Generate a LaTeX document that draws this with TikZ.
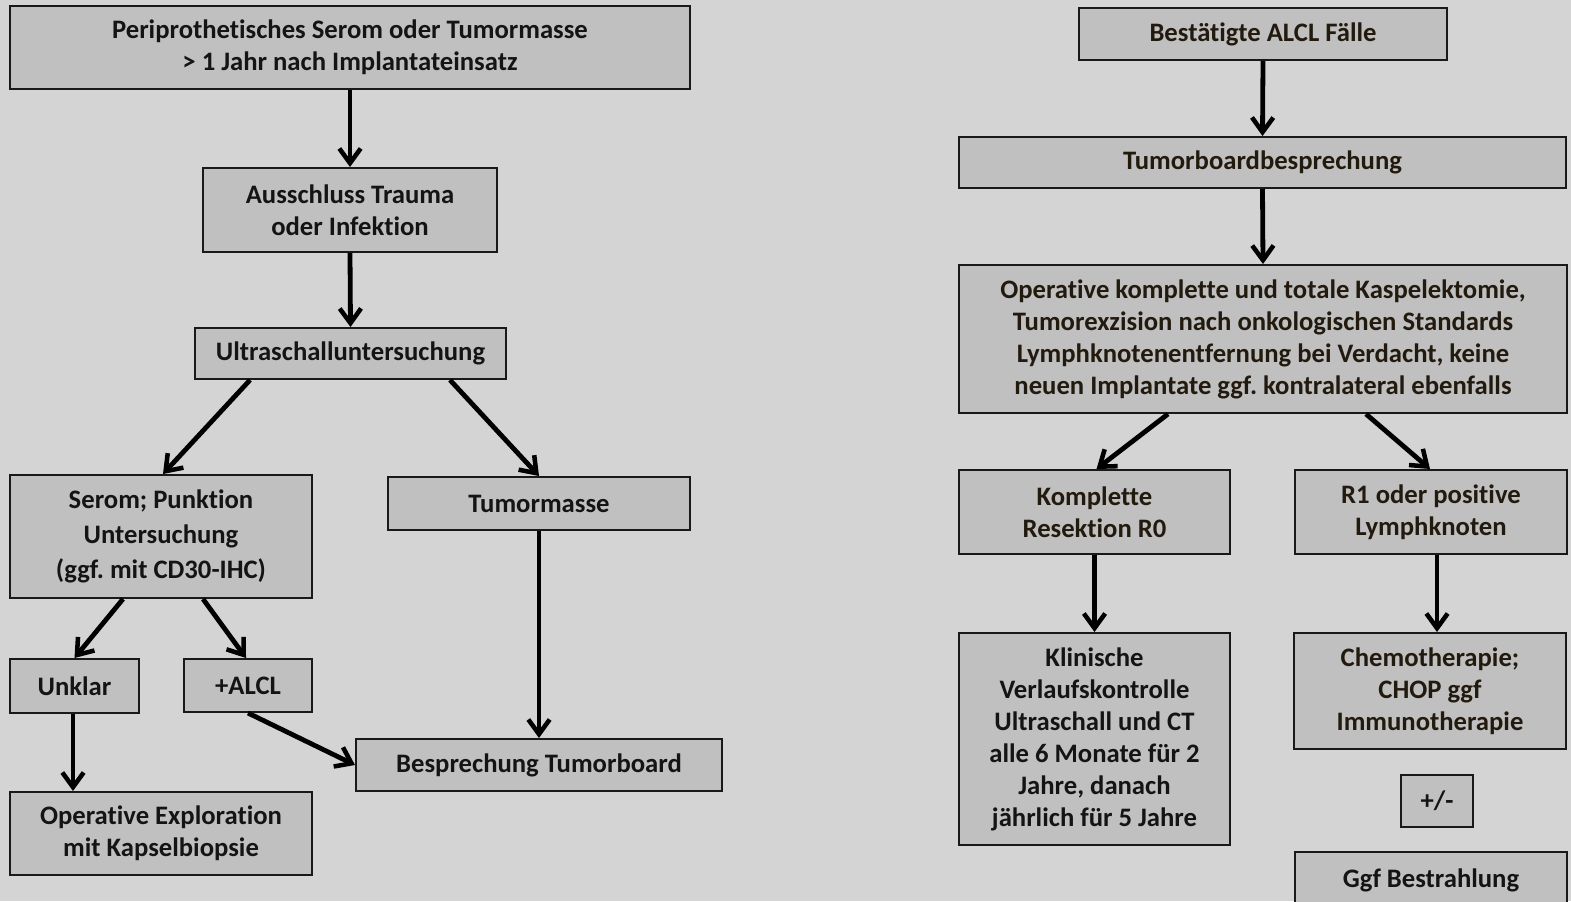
\documentclass[tikz,border=0pt]{standalone}
\usepackage{fontspec}
\setmainfont{Carlito}[Ligatures=NoCommon]
\usetikzlibrary{arrows.meta,calc}
\definecolor{bg}{HTML}{D4D4D4}
\definecolor{boxfill}{HTML}{C0C0C0}
\definecolor{txt}{HTML}{141414}
\definecolor{txtb}{HTML}{221A0E}
\frenchspacing
\tikzset{
  box/.style={draw=black!90, line width=1.5pt, fill=boxfill, inner sep=0pt, align=center,
    font=\fontsize{20}{24}\selectfont\bfseries, text=txt},
  brown/.style={text=txtb},
  conn/.style={line width=3.6pt, -{Straight Barb[length=11pt,width=16pt,line width=3.4pt]}}
}
\begin{document}
\begin{tikzpicture}[x=0.75pt,y=-0.75pt]
\path[use as bounding box, fill=bg] (0,0) rectangle (1571,901);
\clip (0,0) rectangle (1571,901);
% left
\node[box, minimum width=510pt, minimum height=62.25pt] (A) at (350,47.5) {Periprothetisches Serom oder Tumormasse\\> 1 Jahr nach Implantateinsatz};
\node[box, minimum width=220.5pt, minimum height=63pt] (B) at (350,210) {Ausschluss Trauma\\oder Infektion};
\node[box, minimum width=233.25pt, minimum height=38.25pt] (C) at (350.5,353.5) {Ultraschalluntersuchung};
\node[box, font=\fontsize{20}{26}\selectfont\bfseries, minimum width=226.5pt, minimum height=92.25pt] (D) at (161,536.5) {Serom; Punktion\\Untersuchung\\(ggf. mit CD30-IHC)};
\node[box, minimum width=226.5pt, minimum height=39.75pt] (E) at (539,503.5) {Tumormasse};
\node[box, minimum width=96.75pt, minimum height=40.5pt] (F) at (74.5,686) {Unklar};
\node[box, minimum width=96pt, minimum height=39.75pt] (G) at (248,685.5) {+ALCL};
\node[box, minimum width=274.5pt, minimum height=39pt] (H) at (539,765) {Besprechung Tumorboard};
\node[box, minimum width=226.5pt, minimum height=62.25pt] (I) at (161,833.5) {Operative Exploration\\mit Kapselbiopsie};
% right
\node[box, brown, minimum width=276pt, minimum height=39pt] (J) at (1263,34) {Bestätigte ALCL Fälle};
\node[box, brown, minimum width=455.25pt, minimum height=38.25pt] (K) at (1262.5,162.5) {Tumorboardbesprechung};
\node[box, brown, minimum width=456pt, minimum height=111pt] (L) at (1263,339) {Operative komplette und totale Kaspelektomie,\\Tumorexzision nach onkologischen Standards\\Lymphknotenentfernung bei Verdacht, keine\\neuen Implantate ggf. kontralateral ebenfalls};
\node[box, brown, minimum width=203.25pt, minimum height=63pt] (M) at (1094.5,512) {Komplette\\Resektion R0};
\node[box, brown, minimum width=204pt, minimum height=63pt] (N) at (1431,512) {R1 oder positive\\Lymphknoten};
\node[box, minimum width=203.25pt, minimum height=159pt] (O) at (1094.5,739) {Klinische\\Verlaufskontrolle\\Ultraschall und CT\\alle 6 Monate für 2\\Jahre, danach\\jährlich für 5 Jahre};
\node[box, brown, minimum width=204pt, minimum height=87pt] (P) at (1430,691) {Chemotherapie;\\CHOP ggf\\Immunotherapie};
\node[box, minimum width=54pt, minimum height=39pt] (Q) at (1437,801) {+/-};
\node[box, minimum width=204pt, minimum height=42pt] (R) at (1431,880) {Ggf Bestrahlung};
% connectors left
\draw[conn] (A.south) -- (B.north);
\draw[conn] (B.south) -- (C.north);
\draw[conn] ($(C.south)+(-100.5,0)$) -- ($(D.north)+(2,0)$);
\draw[conn] ($(C.south)+(99.5,0)$) -- (E.north);
\draw[conn] ($(D.south)+(-38,0)$) -- (F.north);
\draw[conn] ($(D.south)+(42,0)$) -- ($(G.north)+(-2,0)$);
\coordinate (fs) at ($(F.south)+(-1.5,0)$);
\draw[conn] (fs) -- (fs |- I.north);
\draw[conn] (G.south) -- (H.west);
\draw[conn] (E.south) -- (H.north);
% connectors right
\draw[conn] (J.south) -- (K.north);
\draw[conn] (K.south) -- (L.north);
\draw[conn] ($(L.south)+(-95,0)$) -- ($(M.north)+(2,0)$);
\draw[conn] ($(L.south)+(103,0)$) -- ($(N.north)+(-1,0)$);
\draw[conn] (M.south) -- (O.north);
\coordinate (np) at ($(N.south)+(6,0)$);
\draw[conn] (np) -- (np |- P.north);
\end{tikzpicture}
\end{document}
